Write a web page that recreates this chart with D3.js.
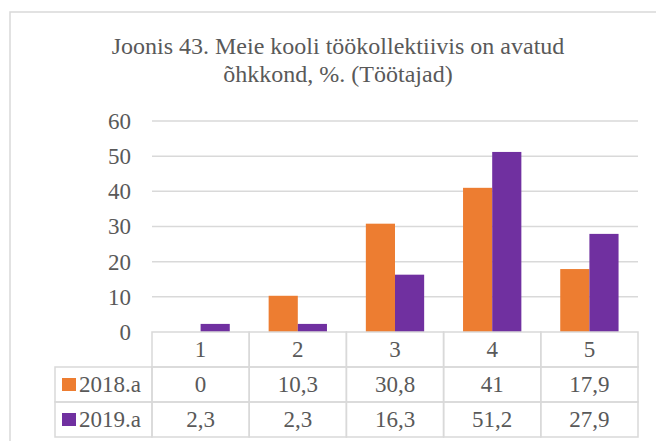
<!DOCTYPE html>
<html>
<head>
<meta charset="utf-8">
<title>Joonis 43</title>
</head>
<body style="margin:0; background:#fff;">
<svg class="chart"></svg>
<script src="https://d3js.org/d3.v7.min.js"></script>
<script>
var categories = ["1", "2", "3", "4", "5"];
var seriesNames = ["2018.a", "2019.a"];
var values2018 = [0, 10.3, 30.8, 41, 17.9];
var values2019 = [2.3, 2.3, 16.3, 51.2, 27.9];
var yTicks = [0, 10, 20, 30, 40, 50, 60];
var colors = ["#ed7d31", "#7030a0"];
var titleLines = ["Joonis 43. Meie kooli töökollektiivis on avatud", "õhkkond, %. (Töötajad)"];

var series = [values2018, values2019];
var width = 656, height = 441;
var plot = {left: 152, right: 638, top: 121, bottom: 332};
var rowH = 35;
var font = "'Liberation Serif', serif";
var textColor = "#595959";
var lineColor = "#d9d9d9";

var svg = d3.select(".chart")
  .attr("width", width).attr("height", height)
  .style("font-family", font);

// outer frame (runs off the right and bottom edges)
svg.append("rect")
  .attr("x", 10).attr("y", 12)
  .attr("width", 700).attr("height", 500)
  .attr("fill", "none").attr("stroke", lineColor).attr("stroke-width", 1.5);

// title
svg.append("text")
  .attr("text-anchor", "middle")
  .style("font-family", font)
  .style("font-size", "24px")
  .attr("fill", textColor)
  .selectAll("tspan")
  .data(titleLines)
  .enter().append("tspan")
    .attr("x", 338)
    .attr("y", function(d, i) { return 54 + i * 28; })
    .text(function(d) { return d; });

var x = d3.scaleBand().domain(categories).range([plot.left, plot.right]);
var y = d3.scaleLinear().domain([0, 60]).range([plot.bottom, plot.top]);
var x1 = d3.scaleBand().domain([0, 1])
  .range([x.bandwidth() * 0.2, x.bandwidth() * 0.8]);

// gridlines
svg.append("g")
  .selectAll("line")
  .data(yTicks.slice(1))
  .enter().append("line")
    .attr("x1", plot.left).attr("x2", plot.right)
    .attr("y1", function(d) { return y(d); })
    .attr("y2", function(d) { return y(d); })
    .attr("stroke", lineColor).attr("stroke-width", 1.5);

// y axis labels
var yAxis = d3.axisLeft(y).tickValues(yTicks).tickSize(0).tickPadding(21);
var yg = svg.append("g").attr("transform", "translate(" + plot.left + ",0)").call(yAxis);
yg.select(".domain").remove();
yg.selectAll("text")
  .style("font-family", font)
  .style("font-size", "23px")
  .attr("fill", textColor);

// bars
var groups = svg.append("g")
  .selectAll("g")
  .data(series)
  .enter().append("g")
    .attr("fill", function(d, i) { return colors[i]; });

groups.each(function(vals, si) {
  d3.select(this).selectAll("rect")
    .data(vals)
    .enter().append("rect")
      .attr("x", function(d, i) { return x(categories[i]) + x1(si); })
      .attr("width", x1.bandwidth())
      .attr("y", function(d) { return y(d); })
      .attr("height", function(d) { return y(0) - y(d); });
});

// data table
var table = svg.append("g");
var legendLeft = 55;

function cell(x0, y0, w) {
  table.append("rect")
    .attr("x", x0).attr("y", y0)
    .attr("width", w).attr("height", rowH)
    .attr("fill", "none").attr("stroke", lineColor).attr("stroke-width", 1.5);
}

function label(x0, y0, anchor, str) {
  table.append("text")
    .attr("x", x0).attr("y", y0)
    .attr("text-anchor", anchor)
    .style("font-family", font)
    .style("font-size", "23px")
    .attr("fill", textColor)
    .text(str);
}

// category row
categories.forEach(function(c) {
  cell(x(c), plot.bottom, x.bandwidth());
  label(x(c) + x.bandwidth() / 2, plot.bottom + rowH / 2 + 7.5, "middle", c);
});

series.forEach(function(vals, si) {
  var top = plot.bottom + rowH * (si + 1);
  cell(legendLeft, top, plot.left - legendLeft);
  table.append("rect")
    .attr("x", legendLeft + 7).attr("y", top + 11)
    .attr("width", 14).attr("height", 13)
    .attr("fill", colors[si]);
  label(legendLeft + 24, top + rowH / 2 + 7.5, "start", seriesNames[si]);
  vals.forEach(function(v, i) {
    var c = categories[i];
    cell(x(c), top, x.bandwidth());
    label(x(c) + x.bandwidth() / 2, top + rowH / 2 + 7.5, "middle", String(v).replace(".", ","));
  });
});
</script>
</body>
</html>
